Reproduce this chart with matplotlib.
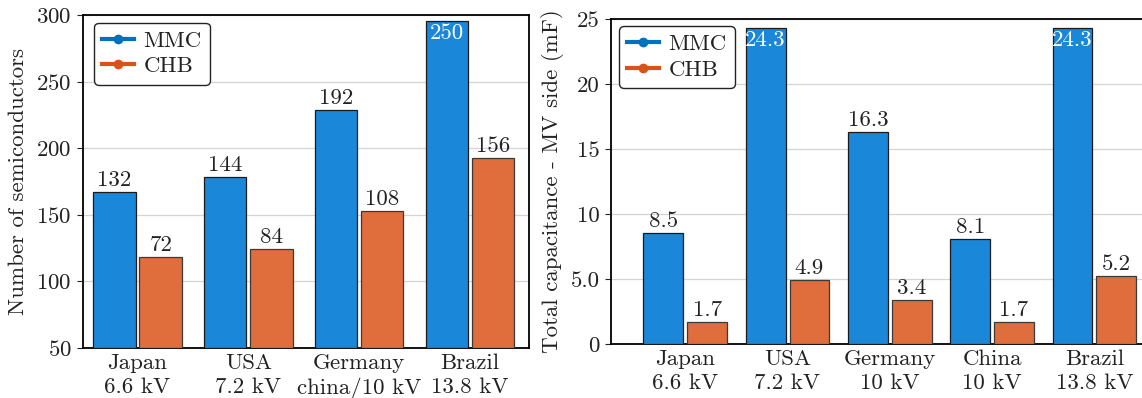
import matplotlib
matplotlib.use('Agg')
import matplotlib.pyplot as plt
from matplotlib.lines import Line2D
import numpy as np

plt.rcParams['font.family'] = 'serif'
plt.rcParams['font.serif'] = ['cmr10']
plt.rcParams['mathtext.fontset'] = 'cm'
plt.rcParams['axes.formatter.use_mathtext'] = True
plt.rcParams['axes.unicode_minus'] = False

# Left chart: number of semiconductors
paises_esq = ['Japan\n6.6 kV', 'USA\n7.2 kV', 'Germany\nchina/10 kV', 'Brazil\n13.8 kV']
mmc_esq = [167, 178, 228.5, 295.5]          # bar heights as drawn
chb_esq = [118, 124, 152.5, 192.5]
mmc_esq_rot = ['132', '144', '192', '250']  # printed labels
chb_esq_rot = ['72', '84', '108', '156']
yticks_esq = [50, 100, 150, 200, 250, 300]

# Right chart: total capacitance
paises_dir = ['Japan\n6.6 kV', 'USA\n7.2 kV', 'Germany\n10 kV', 'China\n10 kV', 'Brazil\n13.8 kV']
mmc_dir = [8.5, 24.3, 16.3, 8.1, 24.3]
chb_dir = [1.7, 4.9, 3.4, 1.7, 5.2]
yticks_dir = [0, 5, 10, 15, 20, 25]
yticklabels_dir = ['0', '5.0', '10', '15', '20', '25']

cor_mmc = '#1a87d9'
cor_chb = '#e06d3c'
cor_leg_mmc = '#0072BD'
cor_leg_chb = '#D95319'
cor_txt = '#222222'
fs = 16.5

fig = plt.figure(figsize=(11.42, 3.98), dpi=100)
ax1 = fig.add_axes([0.0724, 0.1264, 0.3911, 0.8359])
ax2 = fig.add_axes([0.5348, 0.1357, 0.4887, 0.8166])


def desenha(ax, x, mmc, chb, w, off, rot_mmc, rot_chb, topo, ymin):
    b1 = ax.bar(x - off, np.array(mmc) - ymin, w, bottom=ymin, color=cor_mmc,
                edgecolor='#1a1a1a', linewidth=0.9, zorder=3)
    b2 = ax.bar(x + off, np.array(chb) - ymin, w, bottom=ymin, color=cor_chb,
                edgecolor='#3a3a3a', linewidth=0.9, zorder=3)
    for r, v, t in zip(b1, mmc, rot_mmc):
        cx = r.get_x() + r.get_width() / 2
        if v >= topo:
            ax.annotate(t, (cx, v), xytext=(0, -2), textcoords='offset points',
                        ha='center', va='top', color='white', fontsize=fs, zorder=4)
        else:
            ax.annotate(t, (cx, v), xytext=(0, 1.5), textcoords='offset points',
                        ha='center', va='bottom', color=cor_txt, fontsize=fs, zorder=4)
    for r, v, t in zip(b2, chb, rot_chb):
        cx = r.get_x() + r.get_width() / 2
        ax.annotate(t, (cx, v), xytext=(0, 1.5), textcoords='offset points',
                    ha='center', va='bottom', color=cor_txt, fontsize=fs, zorder=4)


x1 = np.arange(len(paises_esq))
desenha(ax1, x1, mmc_esq, chb_esq, 0.382, 0.2085, mmc_esq_rot, chb_esq_rot, 280, 50)
ax1.set_xlim(-0.495, 3.535)
ax1.set_ylim(50, 300)
ax1.set_yticks(yticks_esq)
ax1.set_xticks(x1)
ax1.set_xticklabels(paises_esq, linespacing=1.3)
ax1.set_ylabel('Number of semiconductors', fontsize=fs, color=cor_txt, labelpad=6)

x2 = np.arange(len(paises_dir))
desenha(ax2, x2, mmc_dir, chb_dir, 0.389, 0.214,
        [str(v) for v in mmc_dir], [str(v) for v in chb_dir], 24, 0)
ax2.set_xlim(-0.728, 4.727)
ax2.set_ylim(0, 25)
ax2.set_yticks(yticks_dir)
ax2.set_yticklabels(yticklabels_dir)
ax2.set_xticks(x2)
ax2.set_xticklabels(paises_dir, linespacing=1.3)
ax2.set_ylabel('Total capacitance - MV side (mF)', fontsize=fs, color=cor_txt, labelpad=5)

handles = [Line2D([], [], color=cor_leg_mmc, lw=3, marker='o', markersize=6),
           Line2D([], [], color=cor_leg_chb, lw=3, marker='o', markersize=6)]

anchors = {ax1: (0.026, 0.977), ax2: (0.0154, 0.978)}
for ax in (ax1, ax2):
    ax.grid(axis='y', color='#d4d4d4', linewidth=0.9, zorder=0)
    ax.set_axisbelow(True)
    ax.tick_params(axis='y', direction='out', length=4, width=0.8,
                   labelsize=fs, colors=cor_txt, pad=4)
    ax.tick_params(axis='x', length=0, labelsize=fs, colors=cor_txt, pad=4)
    for s in ax.spines.values():
        s.set_linewidth(1.3)
        s.set_color('black')
    leg = ax.legend(handles, ['MMC', 'CHB'], loc='upper left', fontsize=fs,
                    bbox_to_anchor=anchors[ax], borderaxespad=0,
                    fancybox=True, framealpha=1, edgecolor='#222222',
                    handlelength=1.4, handletextpad=0.4,
                    labelspacing=0.25, borderpad=0.35)
    leg.get_frame().set_linewidth(1.0)
    for t in leg.get_texts():
        t.set_color(cor_txt)
    leg.set_zorder(5)

fig.savefig('out.png', dpi=100)
